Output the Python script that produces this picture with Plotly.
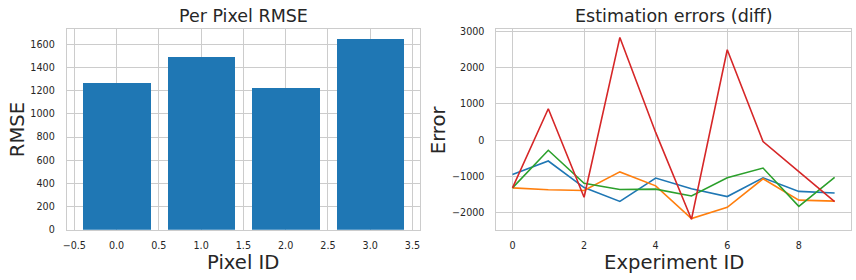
import plotly.graph_objects as go

# ---- data ----
pixel_ids = [0, 1, 2, 3]
rmse_values = [1272, 1496, 1228, 1647]

experiment_ids = [0, 1, 2, 3, 4, 5, 6, 7, 8, 9]
err_pixel0 = [-947, -573, -1304, -1688, -1044, -1340, -1553, -1036, -1411, -1456]
err_pixel1 = [-1314, -1367, -1385, -874, -1258, -2161, -1848, -1063, -1652, -1679]
err_pixel2 = [-1314, -278, -1189, -1358, -1349, -1537, -1036, -768, -1821, -1027]
err_pixel3 = [-1313, 866, -1572, 2831, 214, -2179, 2491, -40, -865, -1690]

colors = ["#1f77b4", "#ff7f0e", "#2ca02c", "#d62728"]
W, H = 856, 280
TXT = "#262626"
GRID = "#cccccc"
FONT = "DejaVu Sans"

fig = go.Figure()
fig.add_trace(go.Bar(x=pixel_ids, y=rmse_values, width=0.8, marker=dict(color=colors[0], line=dict(width=0)),
                     xaxis="x", yaxis="y", showlegend=False))
for ys, c in zip([err_pixel0, err_pixel1, err_pixel2, err_pixel3], colors):
    fig.add_trace(go.Scatter(x=experiment_ids, y=ys, mode="lines", line=dict(color=c, width=1.6),
                             xaxis="x2", yaxis="y2", showlegend=False))

def px_x(p):
    return p / W

def px_y(p):
    return 1 - p / H

top, bot = 26.5, 233.3
common = dict(showgrid=True, gridcolor=GRID, gridwidth=1, showline=True, linecolor=GRID, linewidth=1,
              mirror=True, zeroline=False, ticks="outside", tickcolor="rgba(0,0,0,0)",
              tickfont=dict(family=FONT, size=9.6, color=TXT))

fig.update_layout(
    width=W, height=H, margin=dict(l=0, r=0, t=0, b=0),
    paper_bgcolor="white", plot_bgcolor="white",
    bargap=0,
    xaxis=dict(domain=[px_x(63), px_x(418)], range=[-0.59, 3.59], tickmode="array", ticklen=7,
               tickvals=[-0.5, 0, 0.5, 1, 1.5, 2, 2.5, 3, 3.5], tickformat=".1f", anchor="y", **common),
    yaxis=dict(domain=[px_y(bot), px_y(top)], range=[0, 1735], tickmode="array", ticklen=9,
               tickvals=[0, 200, 400, 600, 800, 1000, 1200, 1400, 1600], anchor="x", **common),
    xaxis2=dict(domain=[px_x(494.7), px_x(850.7)], range=[-0.45, 9.45], tickmode="array", ticklen=7,
                tickvals=[0, 2, 4, 6, 8], anchor="y2", **common),
    yaxis2=dict(domain=[px_y(bot), px_y(top)], range=[-2464, 3070], tickmode="array", ticklen=9,
                tickvals=[-2000, -1000, 0, 1000, 2000, 3000], anchor="x2", **common),
)

def ann(text, x, y, size, angle=0):
    fig.add_annotation(text=text, x=px_x(x), y=px_y(y), xref="paper", yref="paper", showarrow=False,
                       xanchor="center", yanchor="middle", textangle=angle,
                       font=dict(family=FONT, size=size, color=TXT))

ann("Per Pixel RMSE", 240.5, 13, 17.5)
ann("Estimation errors (diff)", 672.7, 13, 17.5)
ann("Pixel ID", 240.5, 267, 19.6)
ann("Experiment ID", 672.7, 267, 19.6)
ann("RMSE", 13, 130, 19.6, -90)
ann("Error", 436, 130, 19.6, -90)

fig.write_html("out.html")
